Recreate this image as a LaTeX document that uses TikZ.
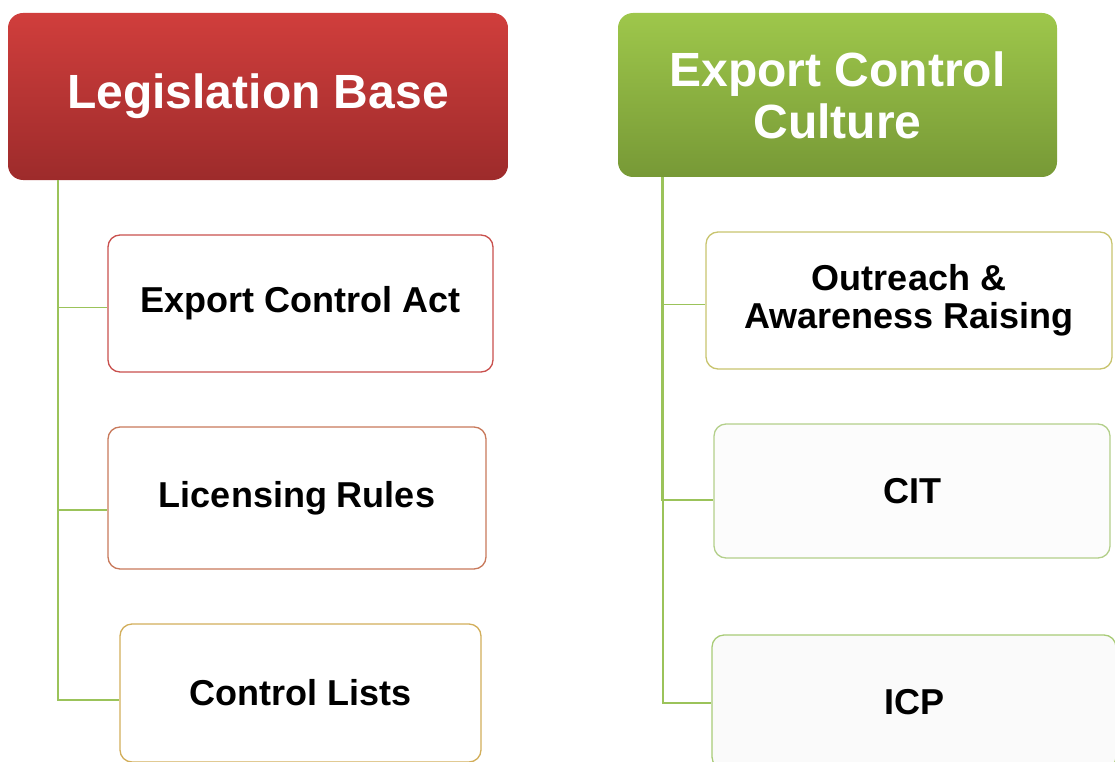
\documentclass[tikz,border=0pt]{standalone}
\usepackage{fontspec}
\setmainfont{Liberation Sans}
\definecolor{legtop}{HTML}{D03E3C}
\definecolor{legbot}{HTML}{9D2B2B}
\definecolor{culttop}{HTML}{9EC74B}
\definecolor{cultbot}{HTML}{779936}
\definecolor{branchgreen}{HTML}{9BC35A}
\definecolor{actred}{HTML}{C9504D}
\definecolor{rulebrown}{HTML}{C8795B}
\definecolor{listgold}{HTML}{D2AE5A}
\definecolor{reacholive}{HTML}{C8C46E}
\definecolor{citgreen}{HTML}{B3CF8A}
\definecolor{icpgreen}{HTML}{A8CB76}
\tikzset{headbox/.style={rounded corners=15pt, text=white, align=center,
        inner sep=0pt, font=\fontsize{48}{52}\selectfont\bfseries},
    itembox/.style={draw, rounded corners=12pt, line width=1.3pt, fill=white,
        align=center, inner sep=0pt, font=\fontsize{36}{38}\selectfont\bfseries},
    branch/.style={draw=branchgreen, line width=1.6pt},
    }

\begin{document}
\begin{tikzpicture}[x=1pt,y=-1pt]
\useasboundingbox (0,0) rectangle (1115,762);
\clip (0,0) rectangle (1115,762);
% heads
\node[headbox, top color=legtop, bottom color=legbot,
    minimum width=500pt, minimum height=167pt] (lb) at (258,96.5) {Legislation Base};
\node[headbox, top color=culttop, bottom color=cultbot,
    minimum width=439pt, minimum height=164pt] (ecc) at (837.5,95) {Export Control\\Culture};
% left column
\node[itembox, draw=actred,
    minimum width=385pt, minimum height=137pt] (eca) at (300.5,303.5) {Export Control Act};
\node[itembox, draw=rulebrown,
    minimum width=378pt, minimum height=142pt] (lr) at (297,498) {Licensing Rules};
\node[itembox, draw=listgold,
    minimum width=361pt, minimum height=138pt] (cl) at (300.5,693) {Control Lists};
% right column
\node[itembox, draw=reacholive,
    minimum width=406pt, minimum height=137pt] (oar) at (909,300.5) {Outreach \&\\Awareness Raising};
\node[itembox, draw=citgreen, fill=black!1,
    minimum width=396pt, minimum height=134pt] (cit) at (912,491) {CIT};
\node[itembox, draw=icpgreen, fill=black!2,
    minimum width=404pt, minimum height=134pt] (icp) at (914,702) {ICP};
% connectors
\coordinate (lt) at ([xshift=50pt]lb.south west);
\coordinate (rt) at ([xshift=44pt]ecc.south west);
\draw[branch] (lt) |- ([yshift=-4pt]eca.west);
\draw[branch] (lt) |- ([yshift=-12pt]lr.west);
\draw[branch] (lt) |- ([yshift=-7pt]cl.west);
\draw[branch] (rt) |- ([yshift=-4pt]oar.west);
\draw[branch] (rt) |- ([yshift=-9pt]cit.west);
\draw[branch, line width=2.2pt] ([xshift=1pt]rt) |- ([yshift=-1pt]icp.west);
\end{tikzpicture}
\end{document}
